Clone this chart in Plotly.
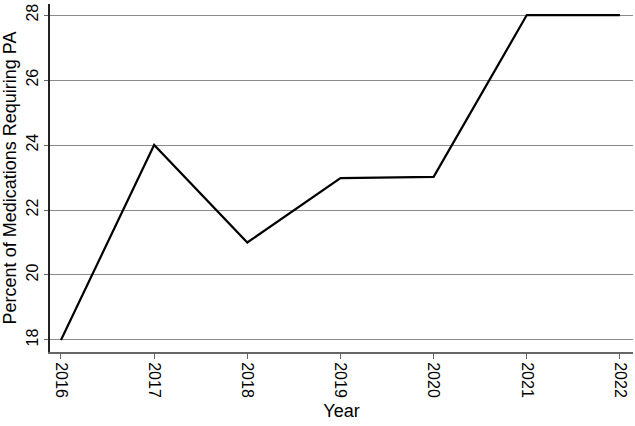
import plotly.graph_objects as go

# Datos
years = [2016, 2017, 2018, 2019, 2020, 2021, 2022]
percent_pa = [18.0, 24.0, 21.0, 22.98, 23.02, 28.0, 28.0]
y_ticks = [18, 20, 22, 24, 26, 28]

fig = go.Figure(go.Scatter(
    x=years,
    y=percent_pa,
    mode='lines',
    line=dict(color='black', width=2.2),
    hoverinfo='x+y'
))

fuente = dict(family='Liberation Sans, Arial, sans-serif', size=15, color='black')
fuente_ticks = dict(family='Liberation Sans, Arial, sans-serif', size=16, color='black')

fig.update_layout(
    width=635,
    height=426,
    paper_bgcolor='white',
    plot_bgcolor='white',
    showlegend=False,
    font=fuente,
    margin=dict(l=50, r=2, t=4, b=74),
    xaxis=dict(
        range=[2015.882, 2022.14],
        tickvals=years,
        ticktext=[str(a) for a in years],
        tickangle=90,
        tickfont=fuente_ticks,
        ticks='outside',
        ticklen=5,
        tickcolor='#666666',
        showgrid=False,
        zeroline=False,
        showline=True,
        linecolor='#666666',
        linewidth=2,
        automargin=False,
        title=dict(text='Year', standoff=8),
    ),
    yaxis=dict(
        range=[17.63, 28.34],
        tickvals=y_ticks,
        tickangle=-90,
        tickfont=fuente_ticks,
        ticks='outside',
        ticklen=4,
        tickcolor='#666666',
        showgrid=True,
        gridcolor='#8a8a8a',
        gridwidth=1,
        zeroline=False,
        showline=True,
        linecolor='#222222',
        linewidth=1.5,
        automargin=False,
        title=dict(text='Percent of Medications Requiring PA', standoff=4),
    ),
)

# quitar el margen del body para que la figura empiece en (0, 0)
fig.write_html('out.html', config={'displayModeBar': False},
               post_script="document.body.style.margin='0';")
